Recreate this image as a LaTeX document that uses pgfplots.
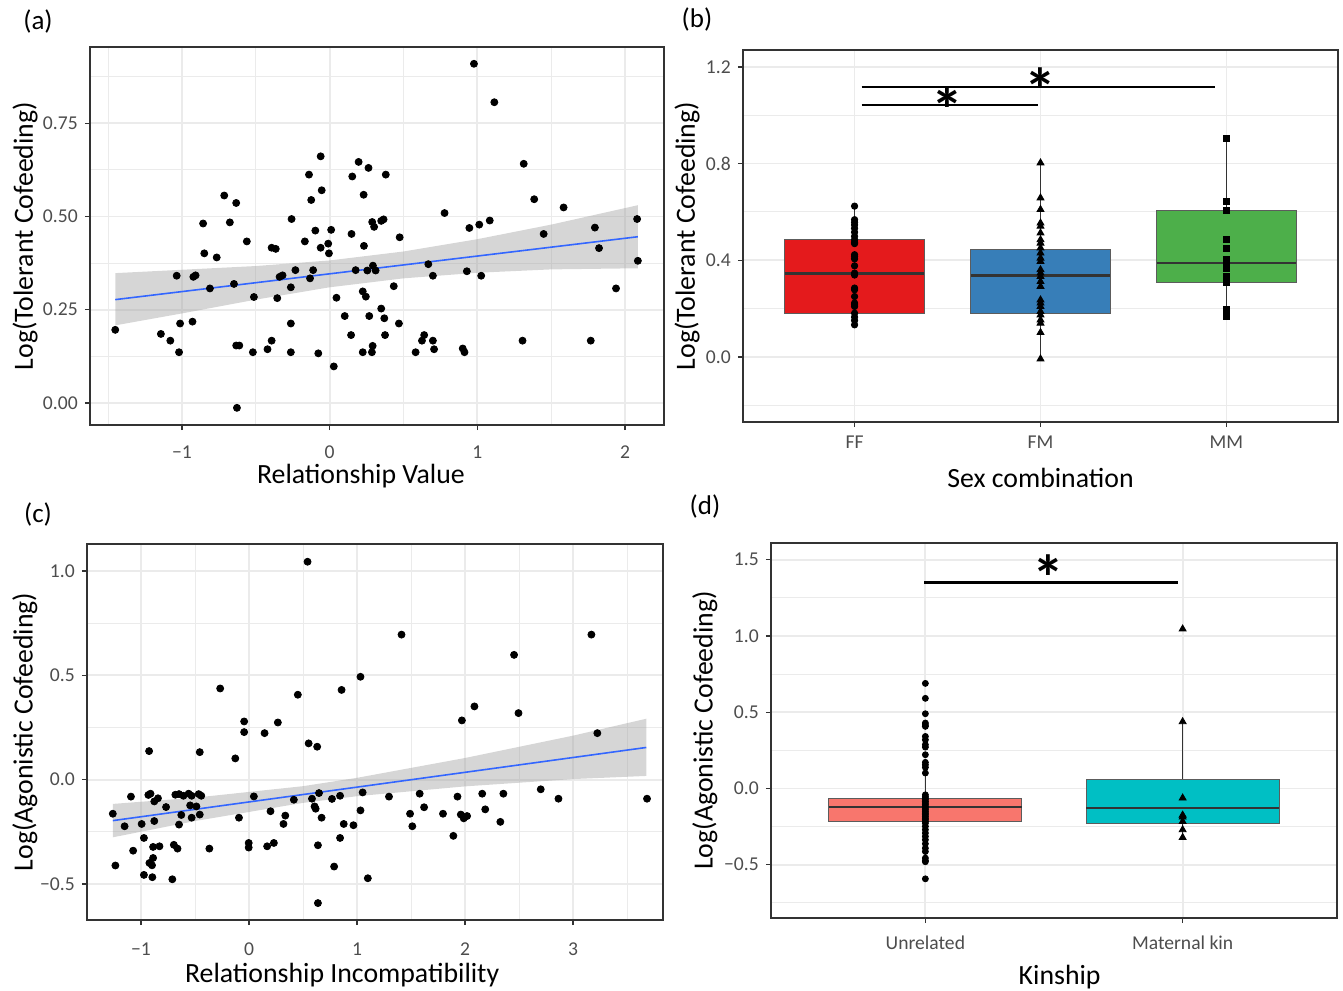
\documentclass[border=0pt]{standalone}
\usepackage{pgfplots}
\pgfplotsset{compat=1.18}
\usepgfplotslibrary{statistics}
\usepackage{fontspec}
\setmainfont{Carlito}
\definecolor{gridc}{HTML}{EBEBEB}
\definecolor{bordc}{HTML}{333333}
\definecolor{tickc}{HTML}{4D4D4D}
\definecolor{smoothc}{HTML}{3366FF}
\definecolor{bandc}{HTML}{999999}
\definecolor{ffred}{HTML}{E41A1C}
\definecolor{fmblue}{HTML}{377EB8}
\definecolor{mmgreen}{HTML}{4DAF4A}
\definecolor{unrel}{HTML}{F8766D}
\definecolor{matkin}{HTML}{00BFC4}
\pgfplotsset{
  ggbase/.style={
    scale only axis,
    anchor=south west,
    axis line style={bordc, line width=0.7pt},
    tick align=outside,
    tick pos=left,
    major tick length=2.6pt,
    every tick/.style={bordc, line width=0.6pt},
    minor tick length=0pt,
    major grid style={gridc, line width=0.9pt},
    minor grid style={gridc, line width=0.45pt},
    tick label style={font=\fontsize{9.8}{10}\selectfont, text=tickc},
    label style={font=\fontsize{13.9}{14}\selectfont, text=black},
    /pgf/number format/assume math mode=true,
    xticklabel style={yshift=-3pt},
  },
  ggbox/.style={
    boxplot/draw direction=y,
    boxplot/box extend=0.75,
    boxplot/whisker extend=0,
    boxplot/every median/.style={line width=1.2pt, draw=bordc},
    boxplot/every whisker/.style={line width=0.5pt, draw=bordc},
    boxplot/every box/.style={line width=0.5pt, draw=bordc!80},
  }
}
\newcommand{\sigstar}{\fontsize{32}{32}\selectfont\bfseries *}
\begin{document}
\begin{tikzpicture}
\useasboundingbox (0,0) rectangle (671.5pt,495pt);
% panel labels
\node[font=\fontsize{13.5}{14}\selectfont] at (19pt,484pt) {(a)};
\node[font=\fontsize{13.5}{14}\selectfont] at (348.5pt,485pt) {(b)};
\node[font=\fontsize{13.5}{14}\selectfont] at (19pt,237.5pt) {(c)};
\node[font=\fontsize{13.5}{14}\selectfont] at (352.5pt,241.5pt) {(d)};

%% (a)
\begin{axis}[ggbase,
  at={(45pt,282.5pt)}, width=287pt, height=189pt,
  xmin=-1.623, xmax=2.264, ymin=-0.059, ymax=0.954,
  xtick={-1,0,1,2}, xticklabels={−1,0,1,2},
  minor xtick={-1.5,-0.5,0.5,1.5},
  ytick={0,0.25,0.5,0.75}, yticklabels={0.00,0.25,0.50,0.75},
  minor ytick={0.125,0.375,0.625,0.875},
  grid=both,
  xticklabel style={yshift=-1.5pt},
  xlabel={Relationship Value}, ylabel={Log(Tolerant Cofeeding)},
  xlabel style={at={(axis description cs:0.472,-0.135)}, anchor=center},
  ylabel style={at={(axis description cs:-0.113,0.5)}, anchor=center},
]
\addplot[only marks, mark=*, mark size=1.75pt, black] coordinates {
(0.977,0.909) (1.115,0.806) (-0.061,0.661) (0.196,0.646) (0.263,0.630)
(-0.140,0.612) (0.153,0.607) (0.380,0.612) (1.314,0.641) (-0.054,0.570)
(-0.125,0.544) (0.230,0.558) (-0.714,0.556) (-0.633,0.536) (1.385,0.546)
(1.584,0.524) (0.778,0.509) (-0.857,0.481) (-0.676,0.484) (-0.258,0.493)
(0.288,0.485) (0.301,0.472) (0.349,0.488) (0.365,0.492) (1.084,0.489)
(1.013,0.478) (0.946,0.469) (2.082,0.493) (1.796,0.470) (-0.097,0.462)
(0.010,0.464) (-0.168,0.433) (-0.561,0.433) (-0.010,0.427) (-0.061,0.416)
(-0.005,0.401) (0.148,0.453) (0.232,0.421) (0.474,0.444) (1.449,0.453)
(-0.393,0.416) (-0.365,0.413) (-0.849,0.401) (-0.765,0.390) (1.824,0.415)
(2.087,0.381) (-0.232,0.356) (-0.112,0.356) (0.176,0.356) (0.255,0.355)
(0.293,0.368) (0.311,0.355) (0.668,0.372) (0.699,0.341) (0.929,0.353)
(1.026,0.341) (-1.036,0.341) (-0.923,0.338) (-0.908,0.342) (-0.339,0.338)
(-0.319,0.342) (-0.133,0.334) (-0.648,0.319) (-0.811,0.307) (-0.263,0.310)
(-0.513,0.284) (-0.355,0.281) (0.046,0.282) (0.224,0.299) (0.245,0.285)
(0.434,0.313) (0.349,0.253) (0.102,0.233) (0.268,0.233) (0.370,0.227)
(1.939,0.307) (-1.013,0.213) (-0.929,0.218) (-0.263,0.213) (0.469,0.213)
(-1.452,0.196) (-1.143,0.185) (-1.079,0.167) (-1.020,0.136) (-0.633,0.154)
(-0.612,0.154) (-0.520,0.136) (-0.421,0.144) (-0.393,0.167) (-0.263,0.136)
(-0.077,0.133) (0.145,0.182) (0.224,0.136) (0.286,0.136) (0.291,0.153)
(0.375,0.182) (0.028,0.098) (0.582,0.136) (0.625,0.167) (0.640,0.182)
(0.699,0.167) (0.707,0.144) (0.901,0.146) (0.913,0.136) (1.306,0.167)
(1.768,0.167) (-0.628,-0.013)
};
\addplot[fill=bandc, fill opacity=0.4, draw=none] coordinates {
(-1.452,0.208) (-1,0.240) (-0.5,0.277) (0,0.310) (0.5,0.334) (1,0.349) (1.5,0.358) (2.087,0.361)
(2.087,0.530) (1.5,0.478) (1,0.439) (0.5,0.406) (0,0.382) (-0.5,0.367) (-1,0.357) (-1.452,0.348)
} -- cycle;
\addplot[smoothc, line width=0.8pt] coordinates {(-1.452,0.277) (2.087,0.4455)};
\end{axis}

%% (b)
\begin{axis}[ggbase, ggbox,
  at={(371.5pt,284pt)}, width=297.5pt, height=186pt,
  xmin=0.4, xmax=3.6, ymin=-0.269, ymax=1.27,
  xtick={1,2,3}, xticklabels={FF,FM,MM},
  ytick={0,0.4,0.8,1.2}, yticklabels={0.0,0.4,0.8,1.2},
  minor ytick={-0.2,0.2,0.6,1.0},
  xmajorgrids, ymajorgrids, yminorgrids,
  xticklabel style={yshift=2pt},
  xlabel={Sex combination}, ylabel={Log(Tolerant Cofeeding)},
  xlabel style={at={(axis description cs:0.5,-0.151)}, anchor=center},
  ylabel style={at={(axis description cs:-0.094,0.5)}, anchor=center},
]
\addplot[fill=ffred, boxplot prepared={draw position=1, lower whisker=0.133, lower quartile=0.180, median=0.346, upper quartile=0.484, upper whisker=0.624}] coordinates {};
\addplot[fill=fmblue, boxplot prepared={draw position=2, lower whisker=-0.008, lower quartile=0.180, median=0.337, upper quartile=0.445, upper whisker=0.803}] coordinates {};
\addplot[fill=mmgreen, boxplot prepared={draw position=3, lower whisker=0.167, lower quartile=0.308, median=0.389, upper quartile=0.604, upper whisker=0.906}] coordinates {};
\addplot[only marks, mark=*, mark size=1.6pt, black] coordinates {
(1,0.624) (1,0.568) (1,0.557) (1,0.546) (1,0.532) (1,0.516) (1,0.499) (1,0.485) (1,0.474) (1,0.469)
(1,0.423) (1,0.416) (1,0.406) (1,0.377) (1,0.347) (1,0.339) (1,0.285) (1,0.278) (1,0.250) (1,0.223)
(1,0.216) (1,0.209) (1,0.181) (1,0.165) (1,0.151) (1,0.133)
};
\addplot[only marks, mark=triangle*, mark size=2pt, black] coordinates {
(2,0.803) (2,0.658) (2,0.610) (2,0.554) (2,0.541) (2,0.513) (2,0.485) (2,0.471) (2,0.451) (2,0.430)
(2,0.409) (2,0.395) (2,0.361) (2,0.347) (2,0.333) (2,0.312) (2,0.292) (2,0.236) (2,0.223) (2,0.209)
(2,0.188) (2,0.174) (2,0.153) (2,0.140) (2,0.101) (2,-0.008)
};
\addplot[only marks, mark=square*, mark size=1.5pt, black] coordinates {
(3,0.906) (3,0.642) (3,0.606) (3,0.485) (3,0.451) (3,0.402) (3,0.382) (3,0.368) (3,0.333) (3,0.319)
(3,0.308) (3,0.195) (3,0.167)
};
\addplot[black, line width=1.2pt] coordinates {(1.038,1.117) (2.94,1.117)};
\addplot[black, line width=1.2pt] coordinates {(1.038,1.043) (1.984,1.043)};
\node at (axis cs:2,1.100) {\sigstar};
\node at (axis cs:1.5,1.022) {\sigstar};
\end{axis}

%% (c)
\begin{axis}[ggbase,
  at={(43.5pt,35pt)}, width=288pt, height=188pt,
  xmin=-1.5, xmax=3.833, ymin=-0.672, ymax=1.129,
  xtick={-1,0,1,2,3}, xticklabels={−1,0,1,2,3},
  minor xtick={-0.5,0.5,1.5,2.5,3.5},
  ytick={-0.5,0,0.5,1}, yticklabels={−0.5,0.0,0.5,1.0},
  minor ytick={-0.25,0.25,0.75},
  grid=both,
  xticklabel style={yshift=-2.5pt},
  xlabel={Relationship Incompatibility}, ylabel={Log(Agonistic Cofeeding)},
  xlabel style={at={(axis description cs:0.443,-0.146)}, anchor=center},
  ylabel style={at={(axis description cs:-0.108,0.5)}, anchor=center},
]
\addplot[only marks, mark=*, mark size=1.75pt, black] coordinates {
(0.542,1.044) (1.412,0.695) (3.170,0.695) (2.454,0.598) (1.032,0.493)
(-0.267,0.437) (0.857,0.430) (0.452,0.407) (2.087,0.351) (2.495,0.319)
(-0.045,0.279) (0.267,0.274) (1.971,0.284) (-0.045,0.228) (0.144,0.223)
(3.225,0.223) (0.552,0.174) (0.631,0.158) (-0.925,0.137) (-0.456,0.132)
(-0.127,0.102) (-1.261,-0.163) (-1.093,-0.081) (-1.152,-0.223) (-0.994,-0.212)
(-0.932,-0.073) (-0.912,-0.067) (-0.877,-0.104) (-0.843,-0.089) (-0.877,-0.198)
(-0.768,-0.131) (-0.973,-0.279) (-1.073,-0.340) (-1.237,-0.411) (-0.888,-0.322)
(-0.829,-0.319) (-0.888,-0.375) (-0.922,-0.399) (-0.898,-0.410) (-0.973,-0.456)
(-0.895,-0.467) (-0.710,-0.477) (-0.696,-0.312) (-0.662,-0.330) (-0.682,-0.072)
(-0.648,-0.069) (-0.607,-0.077) (-0.559,-0.067) (-0.531,-0.077) (-0.466,-0.069)
(-0.442,-0.077) (-0.545,-0.123) (-0.487,-0.128) (-0.627,-0.169) (-0.648,-0.215)
(-0.531,-0.182) (-0.456,-0.167) (-0.367,-0.330) (0.045,-0.080) (-0.093,-0.182)
(-0.003,-0.303) (-0.003,-0.325) (0.168,-0.319) (0.230,-0.303) (0.199,-0.151)
(0.319,-0.212) (0.336,-0.172) (0.415,-0.096) (0.583,-0.091) (0.607,-0.128)
(0.617,-0.139) (0.648,-0.064) (0.672,-0.182) (0.638,-0.314) (0.638,-0.591)
(0.768,-0.092) (0.843,-0.077) (0.843,-0.279) (0.788,-0.416) (0.877,-0.212)
(0.967,-0.218) (1.032,-0.147) (1.052,-0.061) (1.100,-0.472) (1.296,-0.081)
(1.491,-0.163) (1.512,-0.223) (1.580,-0.067) (1.621,-0.132) (1.796,-0.163)
(1.892,-0.269) (1.930,-0.081) (1.961,-0.167) (1.988,-0.185) (2.019,-0.174)
(2.159,-0.067) (2.187,-0.142) (2.327,-0.202) (2.355,-0.067) (2.701,-0.046)
(2.865,-0.091) (3.685,-0.091)
};
\addplot[fill=bandc, fill opacity=0.4, draw=none] coordinates {
(-1.261,-0.276) (-0.5,-0.198) (0.5,-0.111) (1,-0.079) (2,-0.032) (3,0.003) (3.678,0.018)
(3.678,0.292) (3,0.211) (2,0.104) (1,0.009) (0.5,-0.031) (-0.5,-0.086) (-1.261,-0.116)
} -- cycle;
\addplot[smoothc, line width=0.8pt] coordinates {(-1.261,-0.196) (3.678,0.1544)};
\end{axis}

%% (d)
\begin{axis}[ggbase, ggbox,
  at={(385.5pt,36pt)}, width=283pt, height=187.5pt,
  xmin=0.4, xmax=2.6, ymin=-0.85, ymax=1.61,
  xtick={1,2}, xticklabels={Unrelated,Maternal kin},
  ytick={-0.5,0,0.5,1,1.5}, yticklabels={−0.5,0.0,0.5,1.0,1.5},
  minor ytick={-0.75,-0.25,0.25,0.75,1.25},
  xmajorgrids, ymajorgrids, yminorgrids,
  xlabel={Kinship}, ylabel={Log(Agonistic Cofeeding)},
  xlabel style={at={(axis description cs:0.51,-0.157)}, anchor=center},
  ylabel style={at={(axis description cs:-0.117,0.5)}, anchor=center},
]
\addplot[fill=unrel, boxplot prepared={draw position=1, lower whisker=-0.414, lower quartile=-0.217, median=-0.120, upper quartile=-0.068, upper whisker=0.155}] coordinates {};
\addplot[fill=matkin, boxplot prepared={draw position=2, lower whisker=-0.322, lower quartile=-0.230, median=-0.129, upper quartile=0.057, upper whisker=0.438}] coordinates {};
\addplot[only marks, mark=*, mark size=1.5pt, black] coordinates {
(1,0.689) (1,0.591) (1,0.490) (1,0.429) (1,0.416) (1,0.407) (1,0.341) (1,0.319) (1,0.287) (1,0.271)
(1,0.221) (1,0.171) (1,0.155) (1,0.138) (1,0.101) (1,-0.042) (1,-0.053) (1,-0.063) (1,-0.074) (1,-0.085)
(1,-0.096) (1,-0.107) (1,-0.118) (1,-0.129) (1,-0.140) (1,-0.151) (1,-0.162) (1,-0.173) (1,-0.184) (1,-0.195)
(1,-0.206) (1,-0.217) (1,-0.228) (1,-0.249) (1,-0.271) (1,-0.293) (1,-0.315) (1,-0.337) (1,-0.363) (1,-0.392)
(1,-0.414) (1,-0.457) (1,-0.473) (1,-0.481) (1,-0.593)
};
\addplot[only marks, mark=triangle*, mark size=2pt, black] coordinates {
(2,1.046) (2,0.438) (2,-0.063) (2,-0.175) (2,-0.188) (2,-0.217) (2,-0.271) (2,-0.322)
};
\addplot[black, line width=1.2pt] coordinates {(0.996,1.35) (1.98,1.35)};
\node at (axis cs:1.48,1.382) {\sigstar};
\end{axis}
\end{tikzpicture}
\end{document}
